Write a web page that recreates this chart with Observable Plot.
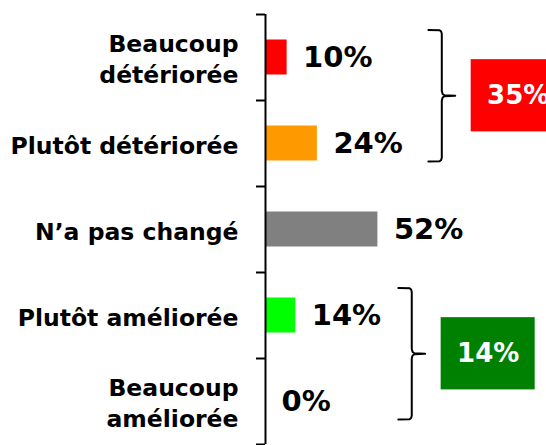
<!DOCTYPE html>
<html>
<head>
<meta charset="utf-8">
<script src="https://cdn.jsdelivr.net/npm/d3@7"></script>
<script src="https://cdn.jsdelivr.net/npm/@observablehq/plot@0.6"></script>
<style>
  html, body { margin: 0; padding: 0; background: white; overflow: hidden; }
</style>
</head>
<body>
<div id="chart"></div>
<script>
// ---- data ----
const categories = ["Beaucoup\ndétériorée", "Plutôt détériorée", "N’a pas changé", "Plutôt améliorée", "Beaucoup\naméliorée"];
const values = [10, 24, 52, 14, 0];
const valueLabels = ["10%", "24%", "52%", "14%", "0%"];
const barColors = ["#ff0000", "#ff9900", "#808080", "#00ff00", "#00ff00"];

const groupLabels = ["35%", "14%"];
const groupFrom = [0, 3];
const groupTo = [1, 4];
const groupColors = ["#ff0000", "#008000"];

// ---- layout constants ----
const BAR_HALF = 0.2035;      // half bar thickness in band units
const BRACE_K = 1.39, BRACE_C = 42;  // brace position relative to the group max (in %)
const BRACE_W = 6.2, NUB = 6.2, BOX_GAP = 7.4, BOX_W = 43.5, BOX_HALF = 0.42;

const bars = categories.map((c, i) => ({i, category: c, value: values[i], label: valueLabels[i], color: barColors[i]}));
const boundaries = d3.range(categories.length + 1).map(k => k - 0.5);

const groups = groupLabels.map((label, g) => {
  const from = groupFrom[g], to = groupTo[g];
  const max = d3.max(values.slice(from, to + 1));
  const xb = max * BRACE_K + BRACE_C;
  const y1 = from - 0.32, y2 = to + 0.21, ym = (y1 + y2) / 2;
  const boxX1 = xb + BRACE_W + NUB + BOX_GAP;
  return {g, label, color: groupColors[g], xb, y1, y2, ym, boxX1, boxX2: boxX1 + BOX_W};
});

const bracePts = groups.flatMap(({g, xb, y1, y2, ym}) => {
  const xv = xb + BRACE_W;
  return [
    [xb, y1], [xv - 1.0, y1 + 0.004], [xv - 0.3, y1 + 0.018], [xv, y1 + 0.045],
    [xv, ym - 0.055], [xv + 0.4, ym - 0.02], [xv + 1.2, ym - 0.006], [xv + NUB, ym],
    [xv + 1.2, ym + 0.006], [xv + 0.4, ym + 0.02], [xv, ym + 0.055],
    [xv, y2 - 0.045], [xv - 0.3, y2 - 0.018], [xv - 1.0, y2 - 0.004], [xb, y2]
  ].map(([x, y]) => ({g, x, y}));
});

const chart = Plot.plot({
  width: 546,
  height: 445,
  marginTop: 14,
  marginBottom: 1,
  marginLeft: 265,
  marginRight: 0,
  x: {domain: [0, 130], axis: null},
  y: {domain: [-0.5, 4.5], reverse: true, axis: null},
  style: {fontFamily: "'DejaVu Sans', Verdana, sans-serif", background: "white", color: "black"},
  marks: [
    Plot.rect(bars, {x1: 0, x2: "value", y1: d => d.i - BAR_HALF, y2: d => d.i + BAR_HALF, fill: "color"}),
    Plot.ruleX([0], {stroke: "black", strokeWidth: 2}),
    Plot.axisY(boundaries, {tickSize: 9, tickFormat: () => "", stroke: "black", strokeWidth: 2}),
    Plot.text(bars, {x: 0, y: "i", text: "category", dx: -27, textAnchor: "end", lineAnchor: "middle",
      lineHeight: 1.33, fontSize: 23.5, fontWeight: "bold", fill: "black"}),
    Plot.text(bars, {x: "value", y: "i", text: "label", dx: 16, textAnchor: "start",
      fontSize: 29, fontWeight: "bold", fill: "black"}),
    Plot.line(bracePts, {x: "x", y: "y", z: "g", stroke: "black", strokeWidth: 2, curve: "linear"}),
    Plot.rect(groups, {x1: "boxX1", x2: "boxX2", y1: d => d.ym - BOX_HALF, y2: d => d.ym + BOX_HALF, fill: "color"}),
    Plot.text(groups, {x: d => (d.boxX1 + d.boxX2) / 2, y: "ym", text: "label", fill: "white",
      fontSize: 26, fontWeight: "bold"})
  ]
});
document.getElementById("chart").appendChild(chart);
</script>
</body>
</html>
